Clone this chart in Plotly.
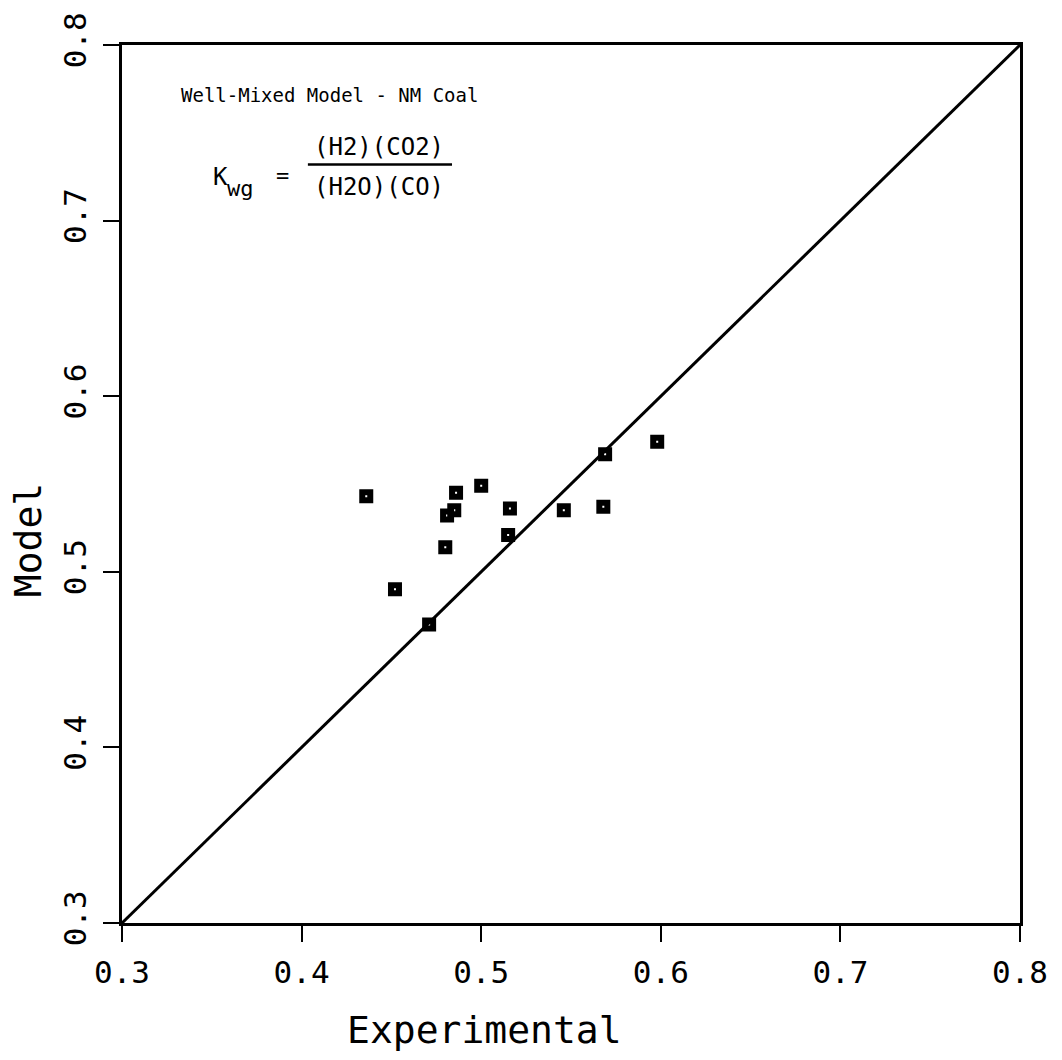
import plotly.graph_objects as go

# Water-gas shift equilibrium constant: experimental vs. well-mixed model
experimental = [0.436, 0.486, 0.500, 0.481, 0.485, 0.516, 0.546, 0.568,
                0.569, 0.598, 0.515, 0.480, 0.452, 0.471]
model = [0.543, 0.545, 0.549, 0.532, 0.535, 0.536, 0.535, 0.537,
         0.567, 0.574, 0.521, 0.514, 0.490, 0.470]

parity = [0.3, 0.8]
tick_vals = [0.3, 0.4, 0.5, 0.6, 0.7, 0.8]
tick_text = ["0.3", "0.4", "0.5", "0.6", "0.7", "0.8"]

FONT = "DejaVu Sans Mono"

fig = go.Figure()

# y = x parity line
fig.add_trace(go.Scatter(
    x=parity, y=parity, mode="lines",
    line=dict(color="black", width=3),
    showlegend=False, hoverinfo="skip",
))

# data points: heavy open squares
fig.add_trace(go.Scatter(
    x=experimental, y=model, mode="markers",
    marker=dict(symbol="square-open", size=8, color="black",
                line=dict(color="black", width=6)),
    showlegend=False,
))

axis_common = dict(
    range=[0.3, 0.8],
    tickvals=tick_vals,
    ticktext=tick_text,
    ticks="outside",
    ticklen=16,
    tickwidth=2,
    tickcolor="black",
    showline=True,
    linecolor="black",
    linewidth=3,
    mirror=True,
    showgrid=False,
    zeroline=False,
    tickfont=dict(family=FONT, size=31, color="black"),
)

fig.update_xaxes(**axis_common, ticklabelstandoff=4)
fig.update_yaxes(**axis_common, tickangle=-90, ticklabelstandoff=5)

# axis titles
fig.add_annotation(text="Experimental", xref="paper", yref="paper",
                   x=0.4042, y=-0.1215, xanchor="center", yanchor="middle",
                   showarrow=False,
                   font=dict(family=FONT, size=38, color="black"))
fig.add_annotation(text="Model", xref="paper", yref="paper",
                   x=-0.1047, y=0.436, xanchor="center", yanchor="middle",
                   textangle=-90, showarrow=False,
                   font=dict(family=FONT, size=38, color="black"))

# text block in the upper left
fig.add_annotation(text="Well-Mixed Model - NM Coal", xref="paper", yref="paper",
                   x=0.0635, y=0.943, xanchor="left", yanchor="middle",
                   showarrow=False,
                   font=dict(family=FONT, size=19, color="black"))
fig.add_annotation(text="K", xref="paper", yref="paper",
                   x=0.1092, y=0.8497, xanchor="center", yanchor="middle",
                   showarrow=False,
                   font=dict(family=FONT, size=24, color="black"))
fig.add_annotation(text="wg", xref="paper", yref="paper",
                   x=0.1325, y=0.8365, xanchor="center", yanchor="middle",
                   showarrow=False,
                   font=dict(family=FONT, size=22, color="black"))
fig.add_annotation(text="=", xref="paper", yref="paper",
                   x=0.179, y=0.851, xanchor="center", yanchor="middle",
                   showarrow=False,
                   font=dict(family=FONT, size=22, color="black"))
fig.add_annotation(text="(H2)(CO2)", xref="paper", yref="paper",
                   x=0.2862, y=0.8842, xanchor="center", yanchor="middle",
                   showarrow=False,
                   font=dict(family=FONT, size=24, color="black"))
fig.add_annotation(text="(H2O)(CO)", xref="paper", yref="paper",
                   x=0.2862, y=0.8377, xanchor="center", yanchor="middle",
                   showarrow=False,
                   font=dict(family=FONT, size=24, color="black"))
fig.add_shape(type="line", xref="paper", yref="paper",
              x0=0.207, x1=0.3675, y0=0.8638, y1=0.8638,
              line=dict(color="black", width=2.5))

fig.update_layout(
    width=1062, height=1060,
    margin=dict(l=122, r=42, t=42, b=137),
    paper_bgcolor="white",
    plot_bgcolor="white",
    font=dict(family=FONT, color="black"),
)

fig.write_html("out.html")
